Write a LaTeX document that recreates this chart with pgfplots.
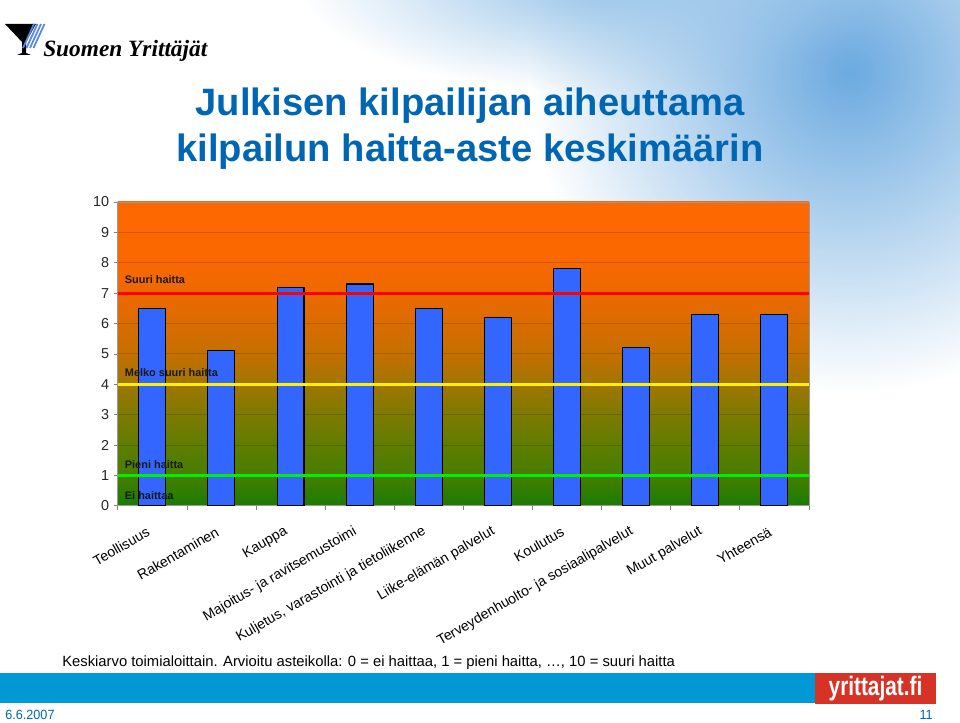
\documentclass[border=0pt]{standalone}
\usepackage{pgfplots}
\pgfplotsset{compat=1.18}
\usetikzlibrary{fadings}
\usepackage{fontspec}
\setmainfont{Liberation Sans}
\newfontfamily\logofont{Liberation Serif}

\definecolor{titleblue}{RGB}{0,102,179}
\definecolor{barblue}{RGB}{51,102,255}
\definecolor{bandblue}{RGB}{0,153,214}
\definecolor{boxred}{RGB}{214,50,38}
\definecolor{skyblue}{RGB}{108,170,224}
\definecolor{g0}{RGB}{25,124,0}
\definecolor{g1}{RGB}{70,126,0}
\definecolor{g2}{RGB}{95,125,0}
\definecolor{g3}{RGB}{125,122,0}
\definecolor{g4}{RGB}{160,118,0}
\definecolor{g5}{RGB}{196,112,0}
\definecolor{g6}{RGB}{218,108,0}
\definecolor{g7}{RGB}{236,105,0}
\definecolor{g8}{RGB}{250,104,0}
\definecolor{g10}{RGB}{255,104,0}
\pgfdeclareverticalshading{plotbg}{100bp}{color(0bp)=(g0); color(25bp)=(g0);
  color(30bp)=(g1); color(35bp)=(g2); color(40bp)=(g3); color(45bp)=(g4);
  color(50bp)=(g5); color(55bp)=(g6); color(60bp)=(g7); color(65bp)=(g8);
  color(75bp)=(g10); color(100bp)=(g10)}
\tikzfading[name=radfade, inner color=transparent!0, outer color=transparent!100]

\pgfplotstableread{
x val
0 6.5
1 5.1
2 7.2
3 7.3
4 6.5
5 6.2
6 7.8
7 5.2
8 6.3
9 6.3
}\haitta

\begin{document}
\begin{tikzpicture}[x=0.75pt,y=0.75pt]
\useasboundingbox (0,0) rectangle (960,722);
% background
\fill[white] (0,0) rectangle (960,722);
\begin{scope}
\clip (0,0) rectangle (960,722);
\fill[skyblue, path fading=radfade] (850,650) circle (320);
\fill[skyblue!70, path fading=radfade] (600,740) ellipse (300 and 110);
\end{scope}

% logo
\fill[black] (5,698) -- (36,698) -- (26,680) -- (26,669) -- (31,667) -- (17,667) -- (22,669) -- (22,680) -- cycle;
\foreach \d in {0,3.5,7,10.5}
  \draw[skyblue!80!blue, line width=1.3pt] (34+\d,698) -- (23+\d,674);
\node[anchor=base west, inner sep=0, font=\logofont\bfseries\itshape\fontsize{17.5}{19}\selectfont] at (43,665) {Suomen Yrittäjät};

% title
\node[align=center, text=titleblue, font=\bfseries\fontsize{28.6}{34.5}\selectfont] at (470,593) {Julkisen kilpailijan aiheuttama\\kilpailun haitta-aste keskimäärin};

\begin{axis}[
  at={(88.3pt,162.2pt)}, anchor=south west,
  scale only axis, width=518.3pt, height=227.8pt,
  xmin=-0.5, xmax=9.5, ymin=0, ymax=10,
  ytick={0,...,10},
  xtick={0,...,9},
  xticklabels={Teollisuus,Rakentaminen,Kauppa,Majoitus- ja ravitsemustoimi,{Kuljetus, varastointi ja tietoliikenne},Liike-elämän palvelut,Koulutus,Terveydenhuolto- ja sosiaalipalvelut,Muut palvelut,Yhteensä},
  minor xtick={-0.5,0.5,...,9.5},
  major x tick style={draw=none},
  tick align=outside, tick pos=left,
  major tick length=3pt, minor tick length=3pt,
  every tick/.style={gray},
  axis line style={gray!80},
  ymajorgrids, major grid style={black, opacity=0.15, line width=0.6pt},
  axis background/.style={shade, shading=plotbg},
  /pgf/number format/assume math mode=true,
  yticklabel style={font=\fontsize{10.8}{12}\selectfont, text=black!85},
  xticklabel style={font=\fontsize{10.6}{12}\selectfont, text=black, yshift=-14pt, rotate=30, anchor=east},
  clip=false,
]
\addplot[ybar, bar width=20.2pt, fill=barblue, draw=black, line width=0.8pt] table[x=x, y=val] {\haitta};
\addplot[red, line width=2.4pt] coordinates {(-0.5,7) (9.5,7)};
\addplot[yellow, line width=2.4pt] coordinates {(-0.5,4) (9.5,4)};
\addplot[green!90!black!60!green, line width=2.4pt] coordinates {(-0.5,1) (9.5,1)};
\begin{scope}[font=\bfseries\fontsize{8.2}{10}\selectfont, text=black!90]
\node[anchor=west, inner sep=0] at (axis cs:-0.4,7.45) {Suuri haitta};
\node[anchor=west, inner sep=0] at (axis cs:-0.4,4.39) {Melko suuri haitta};
\node[anchor=west, inner sep=0] at (axis cs:-0.4,1.36) {Pieni haitta};
\node[anchor=west, inner sep=0] at (axis cs:-0.4,0.35) {Ei haittaa};
\end{scope}
\end{axis}

% footnote
\node[anchor=base west, inner sep=0, font=\fontsize{11.1}{13}\selectfont] at (62,56) {Keskiarvo toimialoittain. Arvioitu asteikolla: 0 = ei haittaa, 1 = pieni haitta, \dots, 10 = suuri haitta};

% footer band
\fill[bandblue] (0,19) rectangle (815,49);
\fill[boxred] (815,18) rectangle (936,49);
\node[text=white, font=\bfseries\fontsize{20}{22}\selectfont] at (875.5,33.5) {\scalebox{0.78}[1]{yrittajat.fi}};
\node[anchor=base west, inner sep=0, text=titleblue, font=\fontsize{10}{11}\selectfont] at (5,3) {\scalebox{0.95}[1]{6.6.2007}};
\node[anchor=base east, inner sep=0, text=titleblue, font=\fontsize{10}{11}\selectfont] at (933,3) {\scalebox{0.95}[1]{11}};
\end{tikzpicture}
\end{document}
